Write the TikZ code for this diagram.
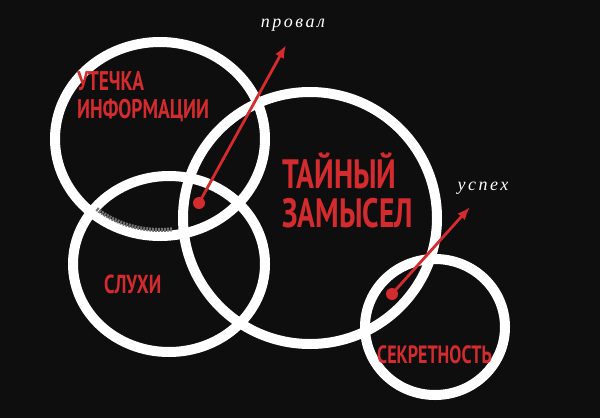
\documentclass[tikz,border=0pt]{standalone}
\usepackage{fontspec}
\usetikzlibrary{arrows.meta}

\newfontfamily\redfont[FakeStretch=0.72]{PT Sans}
\newfontfamily\notefont[LetterSpace=14]{Liberation Serif}
\definecolor{markred}{HTML}{D42B2E}
\definecolor{inkblack}{HTML}{0E0E0E}

\begin{document}
\begin{tikzpicture}[x=1pt,y=-1pt,
  ring/.style={draw=white,line width=10pt},
  label/.style={text=markred,align=left,inner sep=0pt,anchor=base west},
  note/.style={text=white,font=\notefont\itshape\fontsize{18}{18}\selectfont,inner sep=0pt},
  pin/.style={circle,fill=markred,inner sep=0pt,minimum size=12pt},
  flow/.style={draw=markred,line width=2.8pt,-{Latex[length=13pt,width=10pt]}}]

  % background
  \fill[inkblack] (0,0) rectangle (600,418);
  \useasboundingbox (0,0) rectangle (600,418);

  % Rings: centre x / centre y / x radius / y radius
  \foreach \cx/\cy/\rx/\ry in {160/139/105/97, 169/264/96/88, 310/218/127/126, 435/327/70/68}
    {\draw[ring] (\cx,\cy) ellipse [x radius=\rx, y radius=\ry];}
  % dry brush on the inner edge of the first ring
  \draw[white!45!black,line width=4pt,dash pattern=on 2pt off 1pt]
    (160,139) ++(83:99 and 91) arc [start angle=83, end angle=130, x radius=99, y radius=91];

  % Labels (anchored at the last line's baseline)
  \node[label,font=\redfont\bfseries\fontsize{27}{28}\selectfont] (leak) at (77,118) {УТЕЧКА\\ИНФОРМАЦИИ};
  \node[label,font=\redfont\bfseries\fontsize{26}{26}\selectfont] (rumors) at (104,293) {СЛУХИ};
  \node[label,font=\redfont\bfseries\fontsize{41}{39}\selectfont] (plot) at (282,227) {ТАЙНЫЙ\\ЗАМЫСЕЛ};
  \node[label,font=\redfont\bfseries\fontsize{25}{25}\selectfont] (secrecy) at (377,363) {СЕКРЕТНОСТЬ};

  % Outcomes
  \node[pin] (failDot) at (199,203) {};
  \coordinate (failTip) at (286,45);
  \node[note] (fail) at (293,25) {провал};
  \draw[flow] (failDot.center) -- (failTip);

  \node[pin] (winDot) at (392,294) {};
  \coordinate (winTip) at (470,207);
  \node[note] (win) at (483,188) {успех};
  \draw[flow] (winDot.center) -- (winTip);

\end{tikzpicture}
\end{document}
